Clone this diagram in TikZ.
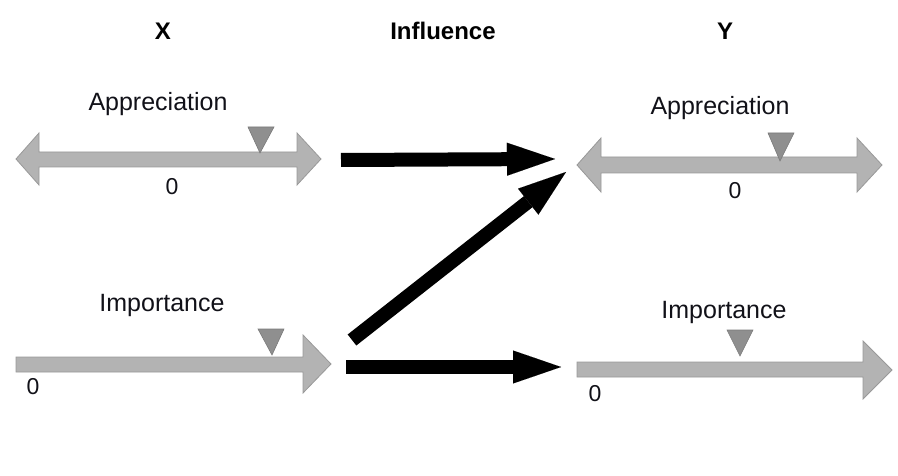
\documentclass[tikz,border=0pt]{standalone}
\usepackage{fontspec}
\setmainfont{Liberation Sans}
\usetikzlibrary{arrows.meta}
\definecolor{barfill}{HTML}{B3B3B3}
\definecolor{baredge}{HTML}{999999}
\definecolor{markfill}{HTML}{8F8F8F}
\definecolor{markedge}{HTML}{7A7A7A}
\definecolor{txt}{HTML}{111118}
\begin{document}
\begin{tikzpicture}[x=1pt,y=-1pt,
  lbl/.style={font=\fontsize{25}{30}\selectfont, anchor=base, inner sep=0pt, text=txt},
  hdr/.style={font=\fontsize{24}{29}\selectfont\bfseries, anchor=base, inner sep=0pt},
  zero/.style={font=\fontsize{23}{28}\selectfont, anchor=base, inner sep=0pt, text=txt},
  scalebar/.style={fill=barfill, draw=baredge, line width=0.8pt, line join=miter},
  marker/.style={fill=markfill, draw=markedge, line width=0.6pt},
  infl/.style={line width=14pt, -{Triangle[length=48pt 0, width=33pt 0, line width=0.01pt]}}]
\useasboundingbox (0,0) rectangle (898,476);

% headers
\node[hdr] (hx) at (163,40) {X};
\node[hdr] (hinf) at (443,40) {Influence};
\node[hdr] (hy) at (725,40) {Y};

% labels
\node[lbl] (appX) at (158,111) {Appreciation};
\node[lbl] (appY) at (720,115) {Appreciation};
\node[lbl] (impX) at (162,311) {Importance};
\node[lbl] (impY) at (724,318) {Importance};

% scales
\draw[scalebar] (16,159) -- (39,133) -- (39,152) -- (297,152) -- (297,133) -- (321,159)
  -- (297,185) -- (297,167) -- (39,167) -- (39,185) -- cycle;
\draw[scalebar] (577,165) -- (601,138) -- (601,157) -- (857,157) -- (857,138) -- (882,165)
  -- (857,192) -- (857,173) -- (601,173) -- (601,192) -- cycle;
\draw[scalebar] (16,357) -- (303,357) -- (303,335) -- (331,364) -- (303,393) -- (303,372)
  -- (16,372) -- cycle;
\draw[scalebar] (577,362) -- (863,362) -- (863,341) -- (892,370) -- (863,399) -- (863,377)
  -- (577,377) -- cycle;

% markers
\draw[marker] (248,127) -- (274,127) -- (260,153) -- cycle;
\draw[marker] (768,133) -- (794,133) -- (780,161) -- cycle;
\draw[marker] (258,329) -- (284,329) -- (272,355) -- cycle;
\draw[marker] (727,330) -- (753,330) -- (740,356) -- cycle;

% zeros
\node[zero] (z1) at (172,195) {0};
\node[zero] (z2) at (735,199) {0};
\node[zero] (z3) at (33,394) {0};
\node[zero] (z4) at (595,401) {0};

% influence arrows
\coordinate (a1s) at (341,160);
\coordinate (a1e) at (555,159);
\coordinate (a2s) at (352,340);
\coordinate (a2e) at (566,172);
\coordinate (a3s) at (346,367);
\coordinate (a3e) at (561,367);
\draw[infl] (a1s) -- (a1e);
\draw[infl] (a2s) -- (a2e);
\draw[infl] (a3s) -- (a3e);
\end{tikzpicture}
\end{document}
